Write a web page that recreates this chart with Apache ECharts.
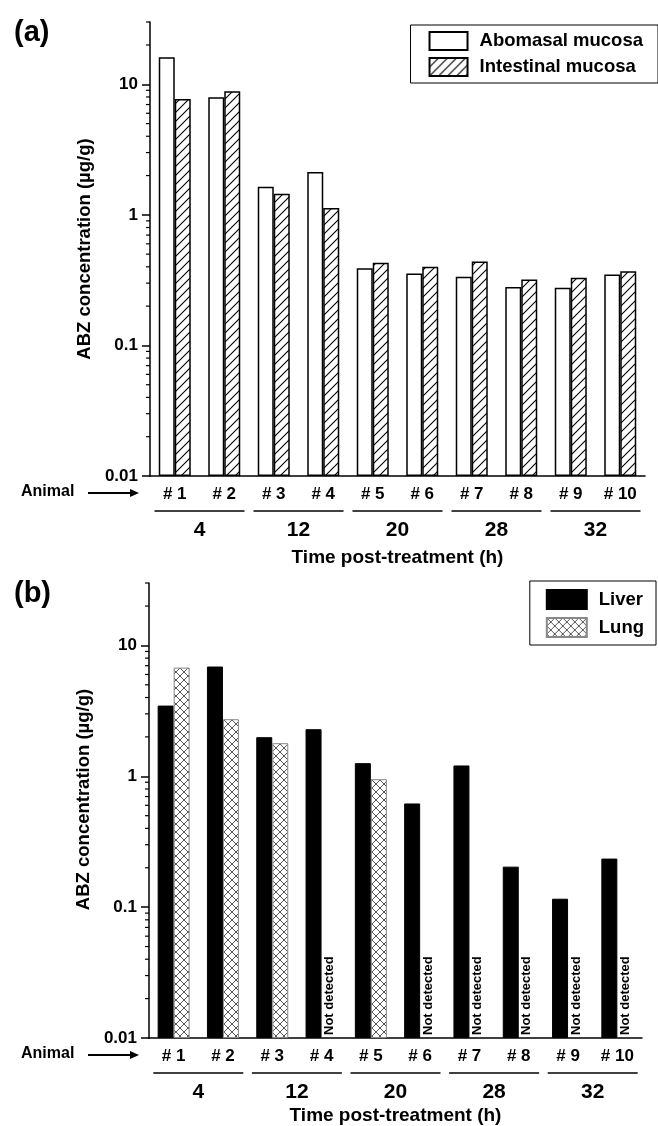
<!DOCTYPE html>
<html>
<head>
<meta charset="utf-8">
<script src="https://cdn.jsdelivr.net/npm/echarts@6/dist/echarts.min.js"></script>
<style>
  html, body { margin: 0; padding: 0; background: #fff; }
  #chart { width: 658px; height: 1126px; }
</style>
</head>
<body>
<div id="chart"></div>
<script>
// 数据
const animals = ['# 1', '# 2', '# 3', '# 4', '# 5', '# 6', '# 7', '# 8', '# 9', '# 10'];
const times = ['4', '12', '20', '28', '32'];
const abomasal = [16.1, 7.95, 1.64, 2.13, 0.39, 0.355, 0.336, 0.28, 0.277, 0.35];
const intestinal = [7.7, 8.85, 1.45, 1.13, 0.43, 0.40, 0.44, 0.32, 0.33, 0.37];
const liver = [3.47, 6.9, 1.99, 2.29, 1.26, 0.62, 1.21, 0.204, 0.116, 0.235];
const lung = [6.77, 2.73, 1.79, null, 0.95, null, null, null, null, null];
const majorTicks = [0.01, 0.1, 1, 10];
const minorTicks = [0.02, 0.03, 0.04, 0.05, 0.06, 0.07, 0.08, 0.09,
                    0.2, 0.3, 0.4, 0.5, 0.6, 0.7, 0.8, 0.9,
                    2, 3, 4, 5, 6, 7, 8, 9, 20, 30];
const yMin = 0.01, yMax = 30;

const FONT = "'Liberation Sans', Arial, sans-serif";
const gridLeft = [150, 149];

// 斜线填充
function makeHatch() {
    const s = 9;
    const c = document.createElement('canvas');
    c.width = s; c.height = s;
    const ctx = c.getContext('2d');
    ctx.fillStyle = '#fff';
    ctx.fillRect(0, 0, s, s);
    ctx.strokeStyle = '#000';
    ctx.lineWidth = 1.1;
    ctx.beginPath();
    ctx.moveTo(-1, s + 1); ctx.lineTo(s + 1, -1);
    ctx.moveTo(-2, 2); ctx.lineTo(2, -2);
    ctx.moveTo(s - 2, s + 2); ctx.lineTo(s + 2, s - 2);
    ctx.stroke();
    return c;
}
// 交叉网格填充
function makeCross() {
    const s = 8;
    const c = document.createElement('canvas');
    c.width = s; c.height = s;
    const ctx = c.getContext('2d');
    ctx.fillStyle = '#fff';
    ctx.fillRect(0, 0, s, s);
    ctx.strokeStyle = '#444';
    ctx.lineWidth = 0.9;
    ctx.beginPath();
    ctx.moveTo(0, 0); ctx.lineTo(s, s);
    ctx.moveTo(0, s); ctx.lineTo(s, 0);
    ctx.stroke();
    return c;
}

const hatchFill = { image: makeHatch(), repeat: 'repeat' };
const crossFill = { image: makeCross(), repeat: 'repeat' };

function animalAxis(grid) {
    return {
        type: 'category', gridIndex: grid, data: animals, position: 'bottom',
        axisLine: { lineStyle: { color: '#000', width: 1.5 } },
        axisTick: { interval: 1, length: 5, lineStyle: { color: '#000', width: 1.5 } },
        axisLabel: { color: '#000', fontSize: 17, fontWeight: 'bold', margin: 10, interval: 0 }
    };
}
function timeAxis(grid, gap) {
    return {
        type: 'category', gridIndex: grid, data: times, position: 'bottom', offset: 34,
        axisLine: { show: false }, axisTick: { show: false },
        axisLabel: { color: '#000', fontSize: 21, fontWeight: 'bold', margin: 10, interval: 0 },
        name: 'Time post-treatment (h)', nameLocation: 'middle', nameGap: gap,
        nameTextStyle: { color: '#000', fontSize: 19, fontWeight: 'bold' }
    };
}
function valueAxis(grid, namePad) {
    return {
        type: 'log', logBase: 10, gridIndex: grid, min: yMin, max: yMax, startValue: yMin,
        position: 'left',
        axisLine: { show: true, lineStyle: { color: '#000', width: 1.5 } },
        axisTick: { show: true, customValues: majorTicks, length: 8, lineStyle: { color: '#000', width: 1.5 } },
        axisLabel: { customValues: majorTicks, color: '#000', fontSize: 17, fontWeight: 'bold', margin: 12,
                     formatter: v => String(v) },
        splitLine: { show: false },
        name: 'ABZ concentration (µg/g)', nameLocation: 'middle', nameGap: 53,
        nameTextStyle: { color: '#000', fontSize: 18.5, fontWeight: 'bold', padding: [0, 0, 0, namePad] }
    };
}

const ndLabel = {
    show: true, formatter: 'Not detected', position: 'insideBottom', rotate: 90,
    align: 'left', verticalAlign: 'middle', distance: 3,
    color: '#000', fontSize: 13, fontWeight: 'bold'
};
const lungData = lung.map(v => v === null
    ? { value: yMin, itemStyle: { borderWidth: 0 }, label: ndLabel }
    : v);

const legendText = { color: '#000', fontSize: 18.5, fontWeight: 'bold', padding: [0, 0, 0, 7] };

const option = {
    animation: false,
    backgroundColor: '#fff',
    textStyle: { fontFamily: FONT },
    title: [
        { text: '(a)', left: 9, top: 13, textStyle: { fontSize: 29, fontWeight: 'bold', color: '#000', fontFamily: FONT } },
        { text: '(b)', left: 9, top: 574, textStyle: { fontSize: 29, fontWeight: 'bold', color: '#000', fontFamily: FONT } }
    ],
    legend: [
        {
            data: ['Abomasal mucosa', 'Intestinal mucosa'], orient: 'vertical', right: 0, top: 25,
            itemWidth: 38, itemHeight: 18, itemGap: 6, icon: 'rect',
            borderColor: '#000', borderWidth: 1, padding: [6, 15, 6, 18],
            textStyle: legendText, selectedMode: false
        },
        {
            data: ['Liver', 'Lung'], orient: 'vertical', right: 2, top: 581,
            itemWidth: 40, itemHeight: 19, itemGap: 7, icon: 'rect',
            borderColor: '#000', borderWidth: 1, padding: [8, 12, 7, 16],
            textStyle: legendText, selectedMode: false
        }
    ],
    grid: [
        { left: gridLeft[0], top: 22, width: 495, height: 454, outerBoundsMode: 'none' },
        { left: gridLeft[1], top: 583, width: 493, height: 455, outerBoundsMode: 'none' }
    ],
    xAxis: [animalAxis(0), timeAxis(0, 38), animalAxis(1), timeAxis(1, 34)],
    yAxis: [valueAxis(0, 0), valueAxis(1, 22)],
    series: [
        {
            name: 'Abomasal mucosa', type: 'bar', xAxisIndex: 0, yAxisIndex: 0, data: abomasal,
            barWidth: 16, barGap: '0%',
            itemStyle: { color: '#fff', borderColor: '#000', borderWidth: 1.5 }
        },
        {
            name: 'Intestinal mucosa', type: 'bar', xAxisIndex: 0, yAxisIndex: 0, data: intestinal,
            barWidth: 16, barGap: '0%',
            itemStyle: { color: hatchFill, borderColor: '#000', borderWidth: 1.5 }
        },
        {
            name: 'Liver', type: 'bar', xAxisIndex: 2, yAxisIndex: 1, data: liver,
            barWidth: 16, barGap: '0%',
            itemStyle: { color: '#000', borderColor: '#000', borderWidth: 1 }
        },
        {
            name: 'Lung', type: 'bar', xAxisIndex: 2, yAxisIndex: 1, data: lungData,
            barWidth: 16, barGap: '0%',
            itemStyle: { color: crossFill, borderColor: '#888', borderWidth: 1 }
        }
    ]
};

const chart = echarts.init(document.getElementById('chart'), null, { renderer: 'canvas' });
chart.setOption(option);

// 注释：次刻度、Animal 箭头、时间分组下划线
function decorations() {
    const els = [];
    [[0, 0], [2, 1]].forEach(([xi, yi]) => {
        const axisX = gridLeft[yi];
        minorTicks.forEach(v => {
            const y = chart.convertToPixel({ yAxisIndex: yi }, v);
            els.push({
                type: 'line', shape: { x1: axisX - 4, y1: y, x2: axisX, y2: y },
                style: { stroke: '#000', lineWidth: 1.2 }
            });
        });
        const axisY = chart.convertToPixel({ yAxisIndex: yi }, yMin);
        const rowY = axisY + 17;
        els.push({
            type: 'text', left: 21, top: rowY - 9,
            style: { text: 'Animal', fill: '#000', font: 'bold 16px ' + FONT }
        });
        els.push({
            type: 'line', shape: { x1: 88, y1: rowY, x2: 132, y2: rowY },
            style: { stroke: '#000', lineWidth: 2 }
        });
        els.push({
            type: 'polygon', shape: { points: [[130, rowY - 4], [139, rowY], [130, rowY + 4]] },
            style: { fill: '#000' }
        });
        for (let k = 0; k < times.length; k++) {
            const a = chart.convertToPixel({ xAxisIndex: xi }, animals[2 * k]);
            const b = chart.convertToPixel({ xAxisIndex: xi }, animals[2 * k + 1]);
            const c = (a + b) / 2;
            els.push({
                type: 'line', shape: { x1: c - 45, y1: axisY + 35, x2: c + 45, y2: axisY + 35 },
                style: { stroke: '#000', lineWidth: 1.5 }
            });
        }
    });
    chart.setOption({ graphic: els });
}
decorations();
</script>
</body>
</html>
